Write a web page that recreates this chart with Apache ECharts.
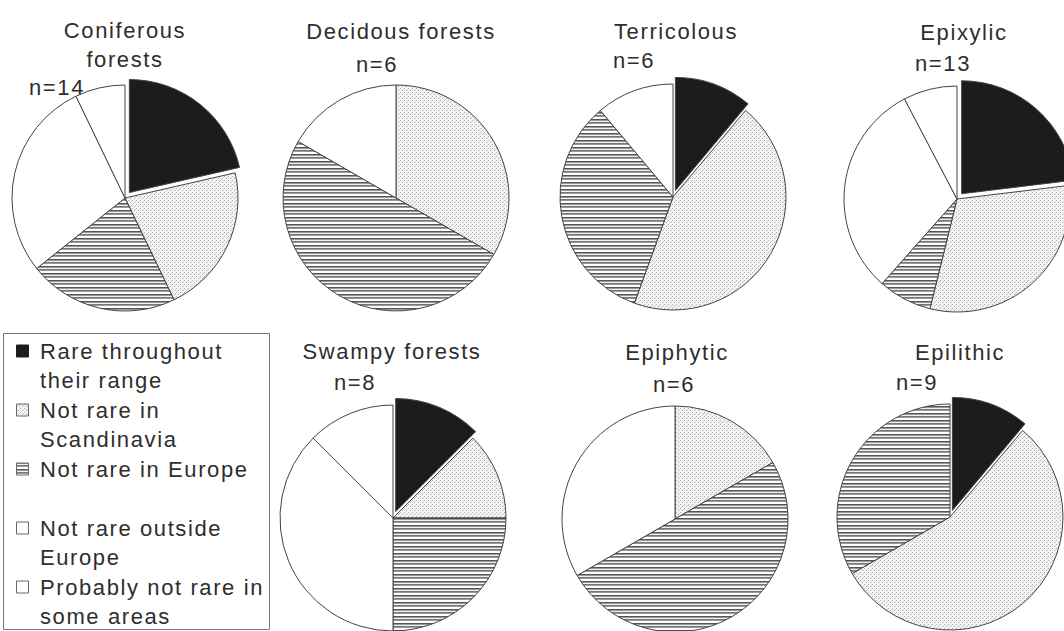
<!DOCTYPE html>
<html><head><meta charset="utf-8">
<script src="https://cdn.jsdelivr.net/npm/echarts@6/dist/echarts.min.js"></script>
<style>
html,body{margin:0;padding:0;background:#fff;}
#chart{width:1064px;height:631px;}
#chart text{letter-spacing:1.6px;}
</style></head><body><div id="chart"></div>
<script>
// ---- data ----
const habitats = ['Coniferous\nforests', 'Decidous forests', 'Terricolous', 'Epixylic', 'Swampy forests', 'Epiphytic', 'Epilithic'];
const sampleSizes = [14, 6, 6, 13, 8, 6, 9];
const categories = ['Rare throughout their range', 'Not rare in Scandinavia', 'Not rare in Europe', 'Not rare outside Europe', 'Probably not rare in some areas'];
const legendLabels = ['Rare throughout\ntheir range', 'Not rare in\nScandinavia', 'Not rare in Europe', 'Not rare outside\nEurope', 'Probably not rare in\nsome areas'];
const rareThroughout       = [3, 0, 1, 3, 1, 0, 1];
const notRareScandinavia   = [3, 2, 4, 4, 1, 1, 5];
const notRareEurope        = [3, 3, 3, 1, 2, 3, 3];
const notRareOutsideEurope = [4, 1, 1, 4, 3, 2, 0];
const probablyNotRare      = [1, 0, 0, 1, 1, 0, 0];

// ---- layout ----
const pieCenters = [[125,198],[396,198],[673,197],[957,199],[393,518],[675,519],[950,517]];
const pieRadius = 113;
const titlePos = [[125,45],[401,31],[676,31],[964,32],[392,351],[677,352],[960,352]];
const nPos = [[57,87],[377,64],[634,60],[943,63.5],[355,382],[674,384],[917,382]];
const FONT = '"Liberation Sans", Arial, sans-serif';
const FS = 22;
const TXT = '#2e2e2e';

// ---- patterns ----
function makePattern(w, h, draw) {
  const c = document.createElement('canvas'); c.width = w; c.height = h;
  const ctx = c.getContext('2d'); draw(ctx); return { image: c, repeat: 'repeat' };
}
const dotPattern = makePattern(4, 4, ctx => {
  ctx.fillStyle = '#f3f3f3'; ctx.fillRect(0,0,4,4);
  ctx.fillStyle = '#b0b0b0'; ctx.fillRect(0,0,1,1); ctx.fillRect(2,2,1,1);
  ctx.fillStyle = '#d4d4d4'; ctx.fillRect(3,1,1,1);
});
const hatchPattern = makePattern(4, 7, ctx => {
  const rows = ['#555','#999','#f0f0f0','#777','#999','#fff','#fff'];
  rows.forEach((c, i) => { ctx.fillStyle = c; ctx.fillRect(0, i, 4, 1); });
});
const palette = ['#1c1c1c', dotPattern, hatchPattern, '#ffffff', '#ffffff'];

const series = habitats.map((h, i) => {
  const vals = [rareThroughout[i], notRareScandinavia[i], notRareEurope[i], notRareOutsideEurope[i], probablyNotRare[i]];
  const data = [];
  vals.forEach((v, k) => {
    if (v > 0) data.push({ name: categories[k], value: v, selected: k === 0, itemStyle: { color: palette[k] } });
  });
  return {
    type: 'pie', name: h.replace('\n', ' '), center: pieCenters[i], radius: pieRadius,
    startAngle: 90, clockwise: true, selectedMode: 'multiple', selectedOffset: 7,
    label: { show: false }, labelLine: { show: false }, emphasis: { disabled: true },
    itemStyle: { borderColor: '#444', borderWidth: 1 }, data
  };
});

const graphics = [];
habitats.forEach((h, i) => {
  graphics.push({ type: 'text', x: titlePos[i][0], y: titlePos[i][1], silent: true,
    style: { text: h, fontSize: FS, fontFamily: FONT, fill: TXT, align: 'center', verticalAlign: 'middle', lineHeight: 29 } });
  graphics.push({ type: 'text', x: nPos[i][0], y: nPos[i][1], silent: true,
    style: { text: 'n=' + sampleSizes[i], fontSize: FS, fontFamily: FONT, fill: TXT, align: 'center', verticalAlign: 'middle' } });
});
// legend box
graphics.push({ type: 'rect', silent: true, shape: { x: 3.5, y: 333.5, width: 266, height: 296 },
  style: { fill: 'none', stroke: '#777', lineWidth: 1 } });
const legendStarts = [351, 410, 469, 528, 587];
legendLabels.forEach((lab, k) => {
  const cy = legendStarts[k];
  graphics.push({ type: 'rect', silent: true, shape: { x: 16.5, y: cy - 6, width: 12, height: 12 },
    style: { fill: palette[k], stroke: k === 0 ? '#1c1c1c' : '#666', lineWidth: 1 } });
  graphics.push({ type: 'text', x: 40, y: cy - 14.75, silent: true,
    style: { text: lab, fontSize: FS, fontFamily: FONT, fill: TXT, align: 'left', verticalAlign: 'top', lineHeight: 29.5 } });
});

const chart = echarts.init(document.getElementById('chart'), null, { renderer: 'svg' });
chart.setOption({ animation: false, backgroundColor: '#fff', series, graphic: graphics });
</script></body></html>
